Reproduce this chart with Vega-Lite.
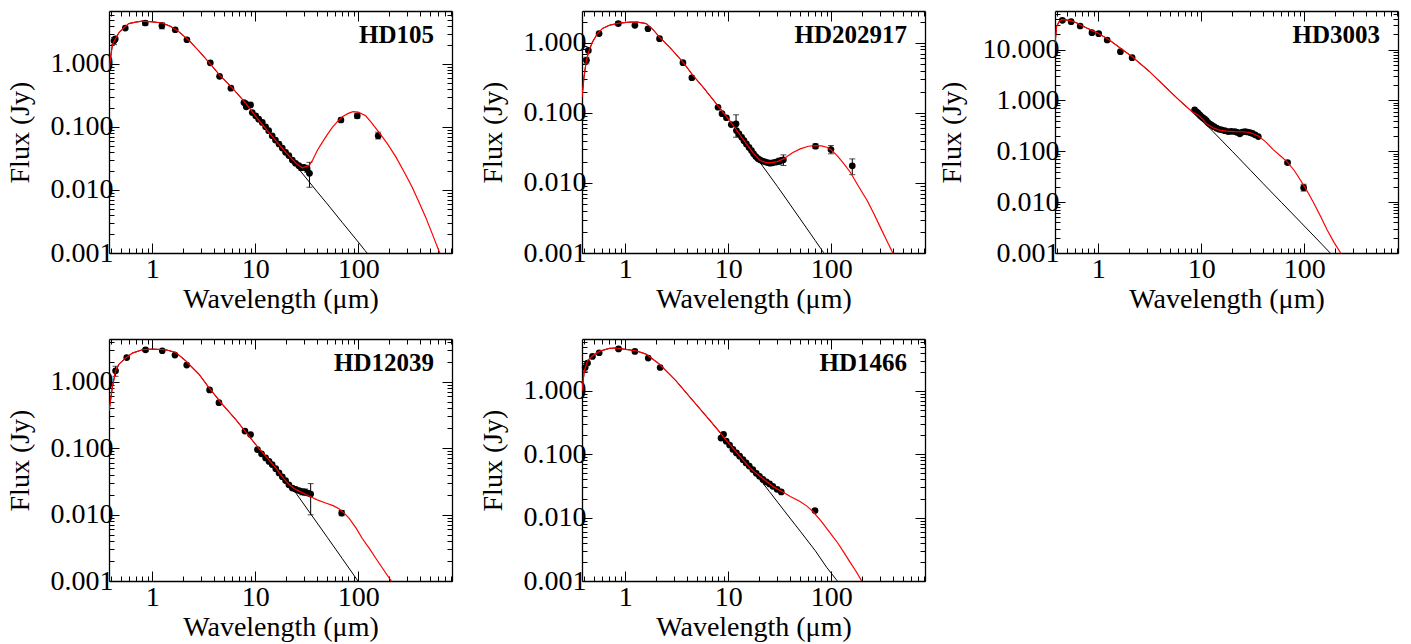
{
"$schema": "https://vega.github.io/schema/vega-lite/v6.json",
"padding": {"left": 6, "top": 10, "right": 5, "bottom": 5},
"background": "white",
"config": {
  "font": "Liberation Serif",
  "view": {"stroke": null},
  "axis": {"domainColor": "black", "domainWidth": 1.3, "tickColor": "black", "tickWidth": 1, "labelColor": "black", "titleColor": "black", "labelFont": "Liberation Serif", "titleFont": "Liberation Serif", "labelFontSize": 28, "titleFontSize": 28, "titleFontWeight": "normal", "grid": false, "labelOverlap": false, "labelFlush": false},
  "title": {"font": "Liberation Serif", "fontSize": 25, "fontWeight": "bold", "color": "black", "anchor": "end", "frame": "group", "orient": "top", "offset": -37, "dx": -18, "baseline": "alphabetic"}
},
"datasets": {"d": [
{"s":"HD105","k":"ph","w":0.38,"f":0.81},{"s":"HD105","k":"ph","w":0.40,"f":1.5},{"s":"HD105","k":"ph","w":0.41,"f":2.0},{"s":"HD105","k":"ph","w":0.44,"f":2.5},{"s":"HD105","k":"ph","w":0.475,"f":3.1},{"s":"HD105","k":"ph","w":0.53,"f":3.7},{"s":"HD105","k":"ph","w":0.59,"f":4.3},{"s":"HD105","k":"ph","w":0.69,"f":4.55},{"s":"HD105","k":"ph","w":0.8,"f":4.72},{"s":"HD105","k":"ph","w":1.0,"f":4.6},{"s":"HD105","k":"ph","w":1.25,"f":4.4},{"s":"HD105","k":"ph","w":1.5,"f":3.9},{"s":"HD105","k":"ph","w":1.81,"f":3.2},{"s":"HD105","k":"ph","w":2.27,"f":2.34},{"s":"HD105","k":"ph","w":2.84,"f":1.58},{"s":"HD105","k":"ph","w":3.55,"f":1.05},{"s":"HD105","k":"ph","w":4.43,"f":0.68},{"s":"HD105","k":"ph","w":6.0,"f":0.41},{"s":"HD105","k":"ph","w":8.07,"f":0.236},{"s":"HD105","k":"ph","w":10,"f":0.149},{"s":"HD105","k":"ph","w":13,"f":0.0885},{"s":"HD105","k":"ph","w":16,"f":0.0585},{"s":"HD105","k":"ph","w":20,"f":0.0375},{"s":"HD105","k":"ph","w":25,"f":0.024},{"s":"HD105","k":"ph","w":30,"f":0.0166},{"s":"HD105","k":"ph","w":40,"f":0.0093},{"s":"HD105","k":"ph","w":50,"f":0.006},{"s":"HD105","k":"ph","w":70,"f":0.00304},{"s":"HD105","k":"ph","w":100,"f":0.00149},{"s":"HD105","k":"ph","w":116,"f":0.0011},{"s":"HD105","k":"ph","w":130,"f":0.00088},
{"s":"HD105","k":"md","w":0.38,"f":0.81},{"s":"HD105","k":"md","w":0.40,"f":1.5},{"s":"HD105","k":"md","w":0.41,"f":2.0},{"s":"HD105","k":"md","w":0.44,"f":2.5},{"s":"HD105","k":"md","w":0.475,"f":3.1},{"s":"HD105","k":"md","w":0.53,"f":3.7},{"s":"HD105","k":"md","w":0.59,"f":4.3},{"s":"HD105","k":"md","w":0.69,"f":4.55},{"s":"HD105","k":"md","w":0.8,"f":4.72},{"s":"HD105","k":"md","w":1.0,"f":4.6},{"s":"HD105","k":"md","w":1.25,"f":4.4},{"s":"HD105","k":"md","w":1.5,"f":3.9},{"s":"HD105","k":"md","w":1.81,"f":3.2},{"s":"HD105","k":"md","w":2.27,"f":2.34},{"s":"HD105","k":"md","w":2.84,"f":1.58},{"s":"HD105","k":"md","w":3.55,"f":1.05},{"s":"HD105","k":"md","w":4.43,"f":0.68},{"s":"HD105","k":"md","w":6.0,"f":0.41},{"s":"HD105","k":"md","w":8.07,"f":0.236},{"s":"HD105","k":"md","w":10,"f":0.149},{"s":"HD105","k":"md","w":13,"f":0.0885},{"s":"HD105","k":"md","w":16,"f":0.0585},{"s":"HD105","k":"md","w":20,"f":0.0385},{"s":"HD105","k":"md","w":25,"f":0.0262},{"s":"HD105","k":"md","w":28.6,"f":0.0223},{"s":"HD105","k":"md","w":33.2,"f":0.0242},{"s":"HD105","k":"md","w":35.8,"f":0.029},{"s":"HD105","k":"md","w":40,"f":0.042},{"s":"HD105","k":"md","w":44.7,"f":0.0565},{"s":"HD105","k":"md","w":50,"f":0.075},{"s":"HD105","k":"md","w":56,"f":0.0975},{"s":"HD105","k":"md","w":63,"f":0.122},{"s":"HD105","k":"md","w":70,"f":0.144},{"s":"HD105","k":"md","w":80,"f":0.163},{"s":"HD105","k":"md","w":89,"f":0.173},{"s":"HD105","k":"md","w":100,"f":0.17},{"s":"HD105","k":"md","w":118,"f":0.149},{"s":"HD105","k":"md","w":135,"f":0.115},{"s":"HD105","k":"md","w":159,"f":0.0813},{"s":"HD105","k":"md","w":190,"f":0.055},{"s":"HD105","k":"md","w":231,"f":0.0336},{"s":"HD105","k":"md","w":280,"f":0.019},{"s":"HD105","k":"md","w":334,"f":0.011},{"s":"HD105","k":"md","w":390,"f":0.0063},{"s":"HD105","k":"md","w":451,"f":0.0037},{"s":"HD105","k":"md","w":530,"f":0.0019},{"s":"HD105","k":"md","w":621,"f":0.00098},{"s":"HD105","k":"md","w":680,"f":0.0007},
{"s":"HD105","k":"ob","w":0.425,"f":2.3,"lo":2.0,"hi":2.6},{"s":"HD105","k":"ob","w":0.437,"f":2.46},{"s":"HD105","k":"ob","w":0.547,"f":3.66},{"s":"HD105","k":"ob","w":0.855,"f":4.4,"lo":4.05,"hi":4.75},{"s":"HD105","k":"ob","w":1.24,"f":3.98,"lo":3.55,"hi":4.45},{"s":"HD105","k":"ob","w":1.67,"f":3.44},{"s":"HD105","k":"ob","w":2.17,"f":2.39},{"s":"HD105","k":"ob","w":3.66,"f":1.03},{"s":"HD105","k":"ob","w":4.5,"f":0.63},{"s":"HD105","k":"ob","w":5.8,"f":0.408},{"s":"HD105","k":"ob","w":7.76,"f":0.242},{"s":"HD105","k":"ob","w":8.07,"f":0.233},{"s":"HD105","k":"ob","w":8.17,"f":0.207},{"s":"HD105","k":"ob","w":9.0,"f":0.222},{"s":"HD105","k":"ob","w":9.35,"f":0.168},{"s":"HD105","k":"ob","w":10.1,"f":0.149},{"s":"HD105","k":"ob","w":10.8,"f":0.132},{"s":"HD105","k":"ob","w":11.7,"f":0.117},{"s":"HD105","k":"ob","w":12.6,"f":0.1},{"s":"HD105","k":"ob","w":13.5,"f":0.0867},{"s":"HD105","k":"ob","w":14.6,"f":0.072},{"s":"HD105","k":"ob","w":15.7,"f":0.0616},{"s":"HD105","k":"ob","w":17,"f":0.0533},{"s":"HD105","k":"ob","w":18.3,"f":0.046},{"s":"HD105","k":"ob","w":19.7,"f":0.0394},{"s":"HD105","k":"ob","w":21.2,"f":0.035},{"s":"HD105","k":"ob","w":22.9,"f":0.0297},{"s":"HD105","k":"ob","w":24.6,"f":0.0264},{"s":"HD105","k":"ob","w":26.5,"f":0.0242},{"s":"HD105","k":"ob","w":28,"f":0.0225,"lo":0.0205,"hi":0.0247},{"s":"HD105","k":"ob","w":29.7,"f":0.0228},{"s":"HD105","k":"ob","w":31.9,"f":0.0215,"lo":0.019,"hi":0.0245},{"s":"HD105","k":"ob","w":33.6,"f":0.0183,"lo":0.011,"hi":0.0273},{"s":"HD105","k":"ob","w":67.9,"f":0.128,"lo":0.119,"hi":0.137},{"s":"HD105","k":"ob","w":97.8,"f":0.149,"lo":0.136,"hi":0.163},{"s":"HD105","k":"ob","w":156,"f":0.072,"lo":0.064,"hi":0.082},

{"s":"HD202917","k":"ph","w":0.38,"f":0.167},{"s":"HD202917","k":"ph","w":0.397,"f":0.32},{"s":"HD202917","k":"ph","w":0.419,"f":0.56},{"s":"HD202917","k":"ph","w":0.446,"f":0.78},{"s":"HD202917","k":"ph","w":0.48,"f":1.02},{"s":"HD202917","k":"ph","w":0.537,"f":1.35},{"s":"HD202917","k":"ph","w":0.6,"f":1.59},{"s":"HD202917","k":"ph","w":0.7,"f":1.77},{"s":"HD202917","k":"ph","w":0.87,"f":1.9},{"s":"HD202917","k":"ph","w":1.1,"f":1.96},{"s":"HD202917","k":"ph","w":1.3,"f":1.97},{"s":"HD202917","k":"ph","w":1.6,"f":1.87},{"s":"HD202917","k":"ph","w":1.85,"f":1.55},{"s":"HD202917","k":"ph","w":2.15,"f":1.2},{"s":"HD202917","k":"ph","w":2.69,"f":0.865},{"s":"HD202917","k":"ph","w":3.63,"f":0.528},{"s":"HD202917","k":"ph","w":4.54,"f":0.341},{"s":"HD202917","k":"ph","w":5.69,"f":0.232},{"s":"HD202917","k":"ph","w":7.67,"f":0.134},{"s":"HD202917","k":"ph","w":10.3,"f":0.0776},{"s":"HD202917","k":"ph","w":15,"f":0.036},{"s":"HD202917","k":"ph","w":20.3,"f":0.0196},{"s":"HD202917","k":"ph","w":30,"f":0.0089},{"s":"HD202917","k":"ph","w":50,"f":0.00305},{"s":"HD202917","k":"ph","w":70,"f":0.0015},{"s":"HD202917","k":"ph","w":84,"f":0.00102},{"s":"HD202917","k":"ph","w":95,"f":0.0008},
{"s":"HD202917","k":"md","w":0.38,"f":0.167},{"s":"HD202917","k":"md","w":0.397,"f":0.32},{"s":"HD202917","k":"md","w":0.419,"f":0.56},{"s":"HD202917","k":"md","w":0.446,"f":0.78},{"s":"HD202917","k":"md","w":0.48,"f":1.02},{"s":"HD202917","k":"md","w":0.537,"f":1.35},{"s":"HD202917","k":"md","w":0.6,"f":1.59},{"s":"HD202917","k":"md","w":0.7,"f":1.77},{"s":"HD202917","k":"md","w":0.87,"f":1.9},{"s":"HD202917","k":"md","w":1.1,"f":1.96},{"s":"HD202917","k":"md","w":1.3,"f":1.97},{"s":"HD202917","k":"md","w":1.6,"f":1.87},{"s":"HD202917","k":"md","w":1.85,"f":1.55},{"s":"HD202917","k":"md","w":2.15,"f":1.2},{"s":"HD202917","k":"md","w":2.69,"f":0.865},{"s":"HD202917","k":"md","w":3.63,"f":0.528},{"s":"HD202917","k":"md","w":4.54,"f":0.341},{"s":"HD202917","k":"md","w":5.69,"f":0.232},{"s":"HD202917","k":"md","w":7.67,"f":0.134},{"s":"HD202917","k":"md","w":10.3,"f":0.0776},{"s":"HD202917","k":"md","w":15,"f":0.036},{"s":"HD202917","k":"md","w":17.5,"f":0.0265},{"s":"HD202917","k":"md","w":20.3,"f":0.0208},{"s":"HD202917","k":"md","w":23,"f":0.0196},{"s":"HD202917","k":"md","w":25.4,"f":0.0193},{"s":"HD202917","k":"md","w":30,"f":0.0201},{"s":"HD202917","k":"md","w":34.3,"f":0.022},{"s":"HD202917","k":"md","w":42,"f":0.027},{"s":"HD202917","k":"md","w":49.9,"f":0.0306},{"s":"HD202917","k":"md","w":60,"f":0.0333},{"s":"HD202917","k":"md","w":69.8,"f":0.0341},{"s":"HD202917","k":"md","w":80,"f":0.0337},{"s":"HD202917","k":"md","w":90.8,"f":0.0323},{"s":"HD202917","k":"md","w":100,"f":0.0295},{"s":"HD202917","k":"md","w":114,"f":0.0245},{"s":"HD202917","k":"md","w":130,"f":0.0195},{"s":"HD202917","k":"md","w":153,"f":0.0142},{"s":"HD202917","k":"md","w":185,"f":0.0088},{"s":"HD202917","k":"md","w":223,"f":0.0056},{"s":"HD202917","k":"md","w":260,"f":0.0036},{"s":"HD202917","k":"md","w":300,"f":0.00232},{"s":"HD202917","k":"md","w":350,"f":0.00145},{"s":"HD202917","k":"md","w":400,"f":0.00097},{"s":"HD202917","k":"md","w":440,"f":0.00075},
{"s":"HD202917","k":"ob","w":0.42,"f":0.56,"lo":0.5,"hi":0.62},{"s":"HD202917","k":"ob","w":0.438,"f":0.776},{"s":"HD202917","k":"ob","w":0.557,"f":1.35},{"s":"HD202917","k":"ob","w":0.855,"f":1.87,"lo":1.75,"hi":2.0},{"s":"HD202917","k":"ob","w":1.24,"f":1.77},{"s":"HD202917","k":"ob","w":1.66,"f":1.58},{"s":"HD202917","k":"ob","w":2.15,"f":1.14},{"s":"HD202917","k":"ob","w":3.63,"f":0.518},{"s":"HD202917","k":"ob","w":4.43,"f":0.316},{"s":"HD202917","k":"ob","w":7.95,"f":0.12},{"s":"HD202917","k":"ob","w":8.7,"f":0.097},{"s":"HD202917","k":"ob","w":9.6,"f":0.0849},{"s":"HD202917","k":"ob","w":10.7,"f":0.068},{"s":"HD202917","k":"ob","w":11.9,"f":0.0696,"lo":0.0448,"hi":0.0936},{"s":"HD202917","k":"ob","w":12.0,"f":0.0558},{"s":"HD202917","k":"ob","w":12.7,"f":0.05},{"s":"HD202917","k":"ob","w":13.5,"f":0.0448},{"s":"HD202917","k":"ob","w":14.2,"f":0.04},{"s":"HD202917","k":"ob","w":15,"f":0.036},{"s":"HD202917","k":"ob","w":15.9,"f":0.032},{"s":"HD202917","k":"ob","w":16.8,"f":0.0289},{"s":"HD202917","k":"ob","w":17.6,"f":0.026},{"s":"HD202917","k":"ob","w":18.5,"f":0.0238},{"s":"HD202917","k":"ob","w":19.4,"f":0.0222},{"s":"HD202917","k":"ob","w":20.3,"f":0.0213},{"s":"HD202917","k":"ob","w":21.5,"f":0.0205},{"s":"HD202917","k":"ob","w":22.7,"f":0.02},{"s":"HD202917","k":"ob","w":24,"f":0.0195},{"s":"HD202917","k":"ob","w":25.4,"f":0.0191},{"s":"HD202917","k":"ob","w":26.9,"f":0.0193},{"s":"HD202917","k":"ob","w":28.4,"f":0.0197},{"s":"HD202917","k":"ob","w":29.8,"f":0.02},{"s":"HD202917","k":"ob","w":31.3,"f":0.0204,"lo":0.0185,"hi":0.0225},{"s":"HD202917","k":"ob","w":32.8,"f":0.021},{"s":"HD202917","k":"ob","w":34.3,"f":0.0213,"lo":0.0177,"hi":0.0251},{"s":"HD202917","k":"ob","w":70.3,"f":0.0333,"lo":0.031,"hi":0.036},{"s":"HD202917","k":"ob","w":99.3,"f":0.0299,"lo":0.026,"hi":0.0341},{"s":"HD202917","k":"ob","w":160,"f":0.0175,"lo":0.0131,"hi":0.022},

{"s":"HD3003","k":"ph","w":0.38,"f":13.5},{"s":"HD3003","k":"ph","w":0.394,"f":28.7},{"s":"HD3003","k":"ph","w":0.418,"f":36},{"s":"HD3003","k":"ph","w":0.442,"f":38.9},{"s":"HD3003","k":"ph","w":0.48,"f":38.5},{"s":"HD3003","k":"ph","w":0.532,"f":37.7},{"s":"HD3003","k":"ph","w":0.62,"f":33.5},{"s":"HD3003","k":"ph","w":0.77,"f":26.7},{"s":"HD3003","k":"ph","w":0.96,"f":21.9},{"s":"HD3003","k":"ph","w":1.27,"f":15.7},{"s":"HD3003","k":"ph","w":1.72,"f":9.97},{"s":"HD3003","k":"ph","w":2.15,"f":7.16},{"s":"HD3003","k":"ph","w":3.13,"f":3.73},{"s":"HD3003","k":"ph","w":4.91,"f":1.55},{"s":"HD3003","k":"ph","w":6.15,"f":1.0},{"s":"HD3003","k":"ph","w":8.3,"f":0.58},{"s":"HD3003","k":"ph","w":10.4,"f":0.39},{"s":"HD3003","k":"ph","w":13,"f":0.245},{"s":"HD3003","k":"ph","w":16.3,"f":0.153},{"s":"HD3003","k":"ph","w":20,"f":0.1},{"s":"HD3003","k":"ph","w":30,"f":0.0425},{"s":"HD3003","k":"ph","w":40.1,"f":0.023},{"s":"HD3003","k":"ph","w":60,"f":0.0099},{"s":"HD3003","k":"ph","w":100,"f":0.0034},{"s":"HD3003","k":"ph","w":150,"f":0.00145},{"s":"HD3003","k":"ph","w":182,"f":0.00096},{"s":"HD3003","k":"ph","w":200,"f":0.00079},
{"s":"HD3003","k":"md","w":0.38,"f":13.5},{"s":"HD3003","k":"md","w":0.394,"f":28.7},{"s":"HD3003","k":"md","w":0.418,"f":36},{"s":"HD3003","k":"md","w":0.442,"f":38.9},{"s":"HD3003","k":"md","w":0.48,"f":38.5},{"s":"HD3003","k":"md","w":0.532,"f":37.7},{"s":"HD3003","k":"md","w":0.62,"f":33.5},{"s":"HD3003","k":"md","w":0.77,"f":26.7},{"s":"HD3003","k":"md","w":0.96,"f":21.9},{"s":"HD3003","k":"md","w":1.27,"f":15.7},{"s":"HD3003","k":"md","w":1.72,"f":9.97},{"s":"HD3003","k":"md","w":2.15,"f":7.16},{"s":"HD3003","k":"md","w":3.13,"f":3.73},{"s":"HD3003","k":"md","w":4.91,"f":1.55},{"s":"HD3003","k":"md","w":6.15,"f":1.0},{"s":"HD3003","k":"md","w":8.3,"f":0.58},{"s":"HD3003","k":"md","w":9.3,"f":0.52},{"s":"HD3003","k":"md","w":10.4,"f":0.42},{"s":"HD3003","k":"md","w":11.2,"f":0.35},{"s":"HD3003","k":"md","w":13,"f":0.29},{"s":"HD3003","k":"md","w":15,"f":0.262},{"s":"HD3003","k":"md","w":17.6,"f":0.25},{"s":"HD3003","k":"md","w":21,"f":0.245},{"s":"HD3003","k":"md","w":25.6,"f":0.243},{"s":"HD3003","k":"md","w":30,"f":0.232},{"s":"HD3003","k":"md","w":35.8,"f":0.2},{"s":"HD3003","k":"md","w":42,"f":0.155},{"s":"HD3003","k":"md","w":50.2,"f":0.107},{"s":"HD3003","k":"md","w":60,"f":0.078},{"s":"HD3003","k":"md","w":67.9,"f":0.0628},{"s":"HD3003","k":"md","w":80,"f":0.042},{"s":"HD3003","k":"md","w":91.7,"f":0.0273},{"s":"HD3003","k":"md","w":105,"f":0.0175},{"s":"HD3003","k":"md","w":124,"f":0.0095},{"s":"HD3003","k":"md","w":145,"f":0.0051},{"s":"HD3003","k":"md","w":167,"f":0.00283},{"s":"HD3003","k":"md","w":195,"f":0.0016},{"s":"HD3003","k":"md","w":225,"f":0.00101},{"s":"HD3003","k":"md","w":245,"f":0.00078},
{"s":"HD3003","k":"ob","w":0.448,"f":37.7,"lo":35,"hi":40.5},{"s":"HD3003","k":"ob","w":0.545,"f":35.5},{"s":"HD3003","k":"ob","w":0.667,"f":29.2},{"s":"HD3003","k":"ob","w":0.868,"f":21.6},{"s":"HD3003","k":"ob","w":1.01,"f":20.6},{"s":"HD3003","k":"ob","w":1.22,"f":15.5},{"s":"HD3003","k":"ob","w":1.64,"f":9.12},{"s":"HD3003","k":"ob","w":2.13,"f":6.94},{"s":"HD3003","k":"ob","w":8.62,"f":0.656},{"s":"HD3003","k":"ob","w":9.0,"f":0.6},{"s":"HD3003","k":"ob","w":9.29,"f":0.564},{"s":"HD3003","k":"ob","w":9.65,"f":0.52},{"s":"HD3003","k":"ob","w":10.0,"f":0.484},{"s":"HD3003","k":"ob","w":10.4,"f":0.455},{"s":"HD3003","k":"ob","w":10.8,"f":0.43},{"s":"HD3003","k":"ob","w":11.2,"f":0.4},{"s":"HD3003","k":"ob","w":11.6,"f":0.369},{"s":"HD3003","k":"ob","w":12.1,"f":0.345},{"s":"HD3003","k":"ob","w":12.6,"f":0.327},{"s":"HD3003","k":"ob","w":13.3,"f":0.305},{"s":"HD3003","k":"ob","w":14.1,"f":0.285},{"s":"HD3003","k":"ob","w":14.9,"f":0.272},{"s":"HD3003","k":"ob","w":15.7,"f":0.265},{"s":"HD3003","k":"ob","w":16.9,"f":0.255},{"s":"HD3003","k":"ob","w":18.2,"f":0.245},{"s":"HD3003","k":"ob","w":19.6,"f":0.246},{"s":"HD3003","k":"ob","w":21.2,"f":0.245},{"s":"HD3003","k":"ob","w":22.4,"f":0.235},{"s":"HD3003","k":"ob","w":23.7,"f":0.221},{"s":"HD3003","k":"ob","w":25.1,"f":0.24},{"s":"HD3003","k":"ob","w":26.6,"f":0.245},{"s":"HD3003","k":"ob","w":28.1,"f":0.24},{"s":"HD3003","k":"ob","w":29.7,"f":0.234},{"s":"HD3003","k":"ob","w":31.4,"f":0.225},{"s":"HD3003","k":"ob","w":33.3,"f":0.211},{"s":"HD3003","k":"ob","w":35.8,"f":0.195},{"s":"HD3003","k":"ob","w":68.8,"f":0.06,"lo":0.056,"hi":0.064},{"s":"HD3003","k":"ob","w":98.6,"f":0.0193,"lo":0.0165,"hi":0.0225},

{"s":"HD12039","k":"ph","w":0.38,"f":0.36},{"s":"HD12039","k":"ph","w":0.409,"f":0.81},{"s":"HD12039","k":"ph","w":0.44,"f":1.45},{"s":"HD12039","k":"ph","w":0.475,"f":1.83},{"s":"HD12039","k":"ph","w":0.55,"f":2.25},{"s":"HD12039","k":"ph","w":0.64,"f":2.68},{"s":"HD12039","k":"ph","w":0.8,"f":3.01},{"s":"HD12039","k":"ph","w":1.0,"f":3.08},{"s":"HD12039","k":"ph","w":1.35,"f":3.01},{"s":"HD12039","k":"ph","w":1.69,"f":2.74},{"s":"HD12039","k":"ph","w":2.11,"f":2.06},{"s":"HD12039","k":"ph","w":2.84,"f":1.29},{"s":"HD12039","k":"ph","w":3.55,"f":0.81},{"s":"HD12039","k":"ph","w":4.78,"f":0.456},{"s":"HD12039","k":"ph","w":6.45,"f":0.27},{"s":"HD12039","k":"ph","w":10.1,"f":0.113},{"s":"HD12039","k":"ph","w":15.8,"f":0.0502},{"s":"HD12039","k":"ph","w":22.9,"f":0.0251},{"s":"HD12039","k":"ph","w":30,"f":0.0139},{"s":"HD12039","k":"ph","w":50,"f":0.00455},{"s":"HD12039","k":"ph","w":70,"f":0.00217},{"s":"HD12039","k":"ph","w":99.3,"f":0.001},{"s":"HD12039","k":"ph","w":110,"f":0.0008},
{"s":"HD12039","k":"md","w":0.38,"f":0.36},{"s":"HD12039","k":"md","w":0.409,"f":0.81},{"s":"HD12039","k":"md","w":0.44,"f":1.45},{"s":"HD12039","k":"md","w":0.475,"f":1.83},{"s":"HD12039","k":"md","w":0.55,"f":2.25},{"s":"HD12039","k":"md","w":0.64,"f":2.68},{"s":"HD12039","k":"md","w":0.8,"f":3.01},{"s":"HD12039","k":"md","w":1.0,"f":3.08},{"s":"HD12039","k":"md","w":1.35,"f":3.01},{"s":"HD12039","k":"md","w":1.69,"f":2.74},{"s":"HD12039","k":"md","w":2.11,"f":2.06},{"s":"HD12039","k":"md","w":2.84,"f":1.29},{"s":"HD12039","k":"md","w":3.55,"f":0.81},{"s":"HD12039","k":"md","w":4.78,"f":0.456},{"s":"HD12039","k":"md","w":6.45,"f":0.27},{"s":"HD12039","k":"md","w":10.1,"f":0.113},{"s":"HD12039","k":"md","w":15.8,"f":0.0502},{"s":"HD12039","k":"md","w":17,"f":0.043},{"s":"HD12039","k":"md","w":19,"f":0.0345},{"s":"HD12039","k":"md","w":21.2,"f":0.0285},{"s":"HD12039","k":"md","w":24,"f":0.0245},{"s":"HD12039","k":"md","w":26.6,"f":0.0225},{"s":"HD12039","k":"md","w":30,"f":0.0205},{"s":"HD12039","k":"md","w":34.5,"f":0.0185},{"s":"HD12039","k":"md","w":40,"f":0.0166},{"s":"HD12039","k":"md","w":48.2,"f":0.0149},{"s":"HD12039","k":"md","w":57,"f":0.0136},{"s":"HD12039","k":"md","w":65,"f":0.0122},{"s":"HD12039","k":"md","w":73,"f":0.0105},{"s":"HD12039","k":"md","w":81.3,"f":0.00883},{"s":"HD12039","k":"md","w":95,"f":0.0063},{"s":"HD12039","k":"md","w":109,"f":0.0044},{"s":"HD12039","k":"md","w":128,"f":0.0031},{"s":"HD12039","k":"md","w":148,"f":0.0022},{"s":"HD12039","k":"md","w":180,"f":0.0014},{"s":"HD12039","k":"md","w":211,"f":0.00098},{"s":"HD12039","k":"md","w":230,"f":0.0008},
{"s":"HD12039","k":"ob","w":0.44,"f":1.45,"lo":1.2,"hi":1.7},{"s":"HD12039","k":"ob","w":0.565,"f":2.3},{"s":"HD12039","k":"ob","w":0.86,"f":3.0,"lo":2.85,"hi":3.15},{"s":"HD12039","k":"ob","w":1.25,"f":2.91},{"s":"HD12039","k":"ob","w":1.66,"f":2.5},{"s":"HD12039","k":"ob","w":2.16,"f":1.77},{"s":"HD12039","k":"ob","w":3.6,"f":0.75},{"s":"HD12039","k":"ob","w":4.44,"f":0.482},{"s":"HD12039","k":"ob","w":7.94,"f":0.18},{"s":"HD12039","k":"ob","w":9.0,"f":0.16},{"s":"HD12039","k":"ob","w":10.5,"f":0.095},{"s":"HD12039","k":"ob","w":11.5,"f":0.082},{"s":"HD12039","k":"ob","w":12.6,"f":0.071},{"s":"HD12039","k":"ob","w":13.6,"f":0.063},{"s":"HD12039","k":"ob","w":14.6,"f":0.0565},{"s":"HD12039","k":"ob","w":15.8,"f":0.049},{"s":"HD12039","k":"ob","w":17,"f":0.0422},{"s":"HD12039","k":"ob","w":18.3,"f":0.037},{"s":"HD12039","k":"ob","w":19.7,"f":0.0324},{"s":"HD12039","k":"ob","w":21.2,"f":0.028},{"s":"HD12039","k":"ob","w":22.9,"f":0.025},{"s":"HD12039","k":"ob","w":24.7,"f":0.024},{"s":"HD12039","k":"ob","w":26.6,"f":0.0229},{"s":"HD12039","k":"ob","w":28.5,"f":0.022,"lo":0.0198,"hi":0.0243},{"s":"HD12039","k":"ob","w":30.4,"f":0.0218,"lo":0.0195,"hi":0.0242},{"s":"HD12039","k":"ob","w":32.5,"f":0.021},{"s":"HD12039","k":"ob","w":34.5,"f":0.0203,"lo":0.0099,"hi":0.0292},{"s":"HD12039","k":"ob","w":69,"f":0.0105,"lo":0.0096,"hi":0.0115},

{"s":"HD1466","k":"ph","w":0.38,"f":1.0},{"s":"HD1466","k":"ph","w":0.4,"f":2.07},{"s":"HD1466","k":"ph","w":0.43,"f":2.99},{"s":"HD1466","k":"ph","w":0.48,"f":3.59},{"s":"HD1466","k":"ph","w":0.558,"f":4.2},{"s":"HD1466","k":"ph","w":0.698,"f":4.69},{"s":"HD1466","k":"ph","w":0.81,"f":4.75},{"s":"HD1466","k":"ph","w":1.01,"f":4.52},{"s":"HD1466","k":"ph","w":1.27,"f":4.3},{"s":"HD1466","k":"ph","w":1.59,"f":3.81},{"s":"HD1466","k":"ph","w":2.14,"f":2.65},{"s":"HD1466","k":"ph","w":3.11,"f":1.44},{"s":"HD1466","k":"ph","w":4.87,"f":0.615},{"s":"HD1466","k":"ph","w":7.62,"f":0.262},{"s":"HD1466","k":"ph","w":10.3,"f":0.143},{"s":"HD1466","k":"ph","w":13.8,"f":0.0826},{"s":"HD1466","k":"ph","w":18.7,"f":0.0475},{"s":"HD1466","k":"ph","w":25,"f":0.026},{"s":"HD1466","k":"ph","w":35,"f":0.0128},{"s":"HD1466","k":"ph","w":50,"f":0.0061},{"s":"HD1466","k":"ph","w":70,"f":0.003},{"s":"HD1466","k":"ph","w":90,"f":0.00165},{"s":"HD1466","k":"ph","w":112,"f":0.00105},{"s":"HD1466","k":"ph","w":125,"f":0.00085},
{"s":"HD1466","k":"md","w":0.38,"f":1.0},{"s":"HD1466","k":"md","w":0.4,"f":2.07},{"s":"HD1466","k":"md","w":0.43,"f":2.99},{"s":"HD1466","k":"md","w":0.48,"f":3.59},{"s":"HD1466","k":"md","w":0.558,"f":4.2},{"s":"HD1466","k":"md","w":0.698,"f":4.69},{"s":"HD1466","k":"md","w":0.81,"f":4.75},{"s":"HD1466","k":"md","w":1.01,"f":4.52},{"s":"HD1466","k":"md","w":1.27,"f":4.3},{"s":"HD1466","k":"md","w":1.59,"f":3.81},{"s":"HD1466","k":"md","w":2.14,"f":2.65},{"s":"HD1466","k":"md","w":3.11,"f":1.44},{"s":"HD1466","k":"md","w":4.87,"f":0.615},{"s":"HD1466","k":"md","w":7.62,"f":0.262},{"s":"HD1466","k":"md","w":10.3,"f":0.143},{"s":"HD1466","k":"md","w":13.8,"f":0.0826},{"s":"HD1466","k":"md","w":16.1,"f":0.062},{"s":"HD1466","k":"md","w":18.7,"f":0.05},{"s":"HD1466","k":"md","w":23.4,"f":0.0375},{"s":"HD1466","k":"md","w":28,"f":0.03},{"s":"HD1466","k":"md","w":33.9,"f":0.0254},{"s":"HD1466","k":"md","w":40,"f":0.0215},{"s":"HD1466","k":"md","w":49.3,"f":0.0181},{"s":"HD1466","k":"md","w":58,"f":0.0152},{"s":"HD1466","k":"md","w":66.4,"f":0.0125},{"s":"HD1466","k":"md","w":80.1,"f":0.0087},{"s":"HD1466","k":"md","w":97,"f":0.0058},{"s":"HD1466","k":"md","w":116,"f":0.00394},{"s":"HD1466","k":"md","w":133,"f":0.0028},{"s":"HD1466","k":"md","w":151,"f":0.00202},{"s":"HD1466","k":"md","w":175,"f":0.0014},{"s":"HD1466","k":"md","w":199,"f":0.00098},{"s":"HD1466","k":"md","w":215,"f":0.0008},
{"s":"HD1466","k":"ob","w":0.408,"f":2.34,"lo":2.0,"hi":2.7},{"s":"HD1466","k":"ob","w":0.43,"f":2.75},{"s":"HD1466","k":"ob","w":0.48,"f":3.5},{"s":"HD1466","k":"ob","w":0.558,"f":4.0},{"s":"HD1466","k":"ob","w":0.86,"f":4.6,"lo":4.45,"hi":4.75},{"s":"HD1466","k":"ob","w":1.24,"f":4.2},{"s":"HD1466","k":"ob","w":1.67,"f":3.3},{"s":"HD1466","k":"ob","w":2.18,"f":2.34},{"s":"HD1466","k":"ob","w":8.5,"f":0.18},{"s":"HD1466","k":"ob","w":9.0,"f":0.206},{"s":"HD1466","k":"ob","w":9.55,"f":0.161},{"s":"HD1466","k":"ob","w":10.3,"f":0.14},{"s":"HD1466","k":"ob","w":11.1,"f":0.119},{"s":"HD1466","k":"ob","w":12.0,"f":0.105},{"s":"HD1466","k":"ob","w":12.9,"f":0.0933},{"s":"HD1466","k":"ob","w":13.9,"f":0.082},{"s":"HD1466","k":"ob","w":14.9,"f":0.073},{"s":"HD1466","k":"ob","w":16,"f":0.065},{"s":"HD1466","k":"ob","w":17.3,"f":0.0574},{"s":"HD1466","k":"ob","w":18.7,"f":0.05},{"s":"HD1466","k":"ob","w":20.1,"f":0.045},{"s":"HD1466","k":"ob","w":21.7,"f":0.04},{"s":"HD1466","k":"ob","w":23.4,"f":0.0366},{"s":"HD1466","k":"ob","w":25.2,"f":0.034},{"s":"HD1466","k":"ob","w":27.1,"f":0.0312},{"s":"HD1466","k":"ob","w":29.8,"f":0.028},{"s":"HD1466","k":"ob","w":32.7,"f":0.0254},{"s":"HD1466","k":"ob","w":69.5,"f":0.0129,"lo":0.0122,"hi":0.0136}
]},
"data": {"name": "d"},
"columns": 3,
"spacing": {"row": 86, "column": 130},
"bounds": "flush",
"concat": [
{"width": 343, "height": 242, "title": {"text": "HD105"}, "transform": [{"filter": "datum.s == 'HD105'"}],
 "resolve": {"axis": {"x": "independent", "y": "independent"}},
 "layer": [
  {"transform": [{"filter": "datum.k == 'ob'"}], "mark": {"type": "circle", "color": "black", "size": 45, "opacity": 1},
   "encoding": {"x": {"field": "w", "type": "quantitative", "scale": {"type": "log", "domain": [0.38, 813], "nice": false}, "axis": {"orient": "bottom", "values": [1, 10, 100], "format": "d", "tickSize": -10, "labelPadding": 12, "labelFont": "Liberation Serif", "labelFontSize": 28, "title": "Wavelength (μm)", "titleFont": "Liberation Serif", "titleFontSize": 28, "titleFontWeight": "normal", "titlePadding": 2}},
    "y": {"field": "f", "type": "quantitative", "scale": {"type": "log", "domain": [0.001, 6.82], "nice": false}, "axis": {"orient": "left", "values": [0.001, 0.01, 0.1, 1], "format": ".3f", "tickSize": -10, "labelPadding": 6, "labelFont": "Liberation Serif", "labelFontSize": 28, "title": "Flux (Jy)", "titleFont": "Liberation Serif", "titleFontSize": 28, "titleFontWeight": "normal", "titlePadding": 16}}}},
  {"transform": [{"filter": "datum.k == 'ob' && isValid(datum.lo)"}], "mark": {"type": "rule", "color": "black", "strokeWidth": 1},
   "encoding": {"x": {"field": "w", "type": "quantitative", "scale": {"type": "log", "domain": [0.38, 813], "nice": false}, "axis": {"orient": "top", "values": [1, 10, 100], "labels": false, "tickSize": -10, "title": null}},
    "y": {"field": "lo", "type": "quantitative", "scale": {"type": "log", "domain": [0.001, 6.82], "nice": false}, "axis": {"orient": "right", "values": [0.001, 0.01, 0.1, 1], "labels": false, "tickSize": -10, "title": null}}, "y2": {"field": "hi"}}},
  {"transform": [{"filter": "datum.k == 'ob' && isValid(datum.lo)"}, {"fold": ["lo", "hi"], "as": ["e", "v"]}], "mark": {"type": "tick", "orient": "horizontal", "color": "black", "size": 6, "thickness": 1},
   "encoding": {"x": {"field": "w", "type": "quantitative", "scale": {"type": "log", "domain": [0.38, 813], "nice": false}, "axis": null},
    "y": {"field": "v", "type": "quantitative", "scale": {"type": "log", "domain": [0.001, 6.82], "nice": false}, "axis": null}}},
  {"transform": [{"filter": "datum.k == 'ph'"}], "mark": {"type": "line", "color": "black", "strokeWidth": 1, "clip": true},
   "encoding": {"x": {"field": "w", "type": "quantitative", "scale": {"type": "log", "domain": [0.38, 813], "nice": false}, "axis": {"orient": "bottom", "values": [0.4, 0.5, 0.6, 0.7, 0.8, 0.9, 2, 3, 4, 5, 6, 7, 8, 9, 20, 30, 40, 50, 60, 70, 80, 90, 200, 300, 400, 500, 600, 700, 800], "labels": false, "domain": false, "tickSize": -5, "title": null}},
    "y": {"field": "f", "type": "quantitative", "scale": {"type": "log", "domain": [0.001, 6.82], "nice": false}, "axis": {"orient": "left", "values": [0.002, 0.003, 0.004, 0.005, 0.006, 0.007, 0.008, 0.009, 0.02, 0.03, 0.04, 0.05, 0.06, 0.07, 0.08, 0.09, 0.2, 0.3, 0.4, 0.5, 0.6, 0.7, 0.8, 0.9, 2, 3, 4, 5, 6], "labels": false, "domain": false, "tickSize": -5, "title": null}}}},
  {"transform": [{"filter": "datum.k == 'md'"}], "mark": {"type": "line", "color": "#ff0000", "strokeWidth": 1.2, "clip": true},
   "encoding": {"x": {"field": "w", "type": "quantitative", "scale": {"type": "log", "domain": [0.38, 813], "nice": false}, "axis": {"orient": "top", "values": [0.4, 0.5, 0.6, 0.7, 0.8, 0.9, 2, 3, 4, 5, 6, 7, 8, 9, 20, 30, 40, 50, 60, 70, 80, 90, 200, 300, 400, 500, 600, 700, 800], "labels": false, "domain": false, "tickSize": -5, "title": null}},
    "y": {"field": "f", "type": "quantitative", "scale": {"type": "log", "domain": [0.001, 6.82], "nice": false}, "axis": {"orient": "right", "values": [0.002, 0.003, 0.004, 0.005, 0.006, 0.007, 0.008, 0.009, 0.02, 0.03, 0.04, 0.05, 0.06, 0.07, 0.08, 0.09, 0.2, 0.3, 0.4, 0.5, 0.6, 0.7, 0.8, 0.9, 2, 3, 4, 5, 6], "labels": false, "domain": false, "tickSize": -5, "title": null}}}}
 ]},
{"width": 343, "height": 242, "title": {"text": "HD202917"}, "transform": [{"filter": "datum.s == 'HD202917'"}],
 "resolve": {"axis": {"x": "independent", "y": "independent"}},
 "layer": [
  {"transform": [{"filter": "datum.k == 'ob'"}], "mark": {"type": "circle", "color": "black", "size": 45, "opacity": 1},
   "encoding": {"x": {"field": "w", "type": "quantitative", "scale": {"type": "log", "domain": [0.38, 813], "nice": false}, "axis": {"orient": "bottom", "values": [1, 10, 100], "format": "d", "tickSize": -10, "labelPadding": 12, "labelFont": "Liberation Serif", "labelFontSize": 28, "title": "Wavelength (μm)", "titleFont": "Liberation Serif", "titleFontSize": 28, "titleFontWeight": "normal", "titlePadding": 2}},
    "y": {"field": "f", "type": "quantitative", "scale": {"type": "log", "domain": [0.001, 2.83], "nice": false}, "axis": {"orient": "left", "values": [0.001, 0.01, 0.1, 1], "format": ".3f", "tickSize": -10, "labelPadding": 6, "labelFont": "Liberation Serif", "labelFontSize": 28, "title": "Flux (Jy)", "titleFont": "Liberation Serif", "titleFontSize": 28, "titleFontWeight": "normal", "titlePadding": 16}}}},
  {"transform": [{"filter": "datum.k == 'ob' && isValid(datum.lo)"}], "mark": {"type": "rule", "color": "black", "strokeWidth": 1},
   "encoding": {"x": {"field": "w", "type": "quantitative", "scale": {"type": "log", "domain": [0.38, 813], "nice": false}, "axis": {"orient": "top", "values": [1, 10, 100], "labels": false, "tickSize": -10, "title": null}},
    "y": {"field": "lo", "type": "quantitative", "scale": {"type": "log", "domain": [0.001, 2.83], "nice": false}, "axis": {"orient": "right", "values": [0.001, 0.01, 0.1, 1], "labels": false, "tickSize": -10, "title": null}}, "y2": {"field": "hi"}}},
  {"transform": [{"filter": "datum.k == 'ob' && isValid(datum.lo)"}, {"fold": ["lo", "hi"], "as": ["e", "v"]}], "mark": {"type": "tick", "orient": "horizontal", "color": "black", "size": 6, "thickness": 1},
   "encoding": {"x": {"field": "w", "type": "quantitative", "scale": {"type": "log", "domain": [0.38, 813], "nice": false}, "axis": null},
    "y": {"field": "v", "type": "quantitative", "scale": {"type": "log", "domain": [0.001, 2.83], "nice": false}, "axis": null}}},
  {"transform": [{"filter": "datum.k == 'ph'"}], "mark": {"type": "line", "color": "black", "strokeWidth": 1, "clip": true},
   "encoding": {"x": {"field": "w", "type": "quantitative", "scale": {"type": "log", "domain": [0.38, 813], "nice": false}, "axis": {"orient": "bottom", "values": [0.4, 0.5, 0.6, 0.7, 0.8, 0.9, 2, 3, 4, 5, 6, 7, 8, 9, 20, 30, 40, 50, 60, 70, 80, 90, 200, 300, 400, 500, 600, 700, 800], "labels": false, "domain": false, "tickSize": -5, "title": null}},
    "y": {"field": "f", "type": "quantitative", "scale": {"type": "log", "domain": [0.001, 2.83], "nice": false}, "axis": {"orient": "left", "values": [0.002, 0.003, 0.004, 0.005, 0.006, 0.007, 0.008, 0.009, 0.02, 0.03, 0.04, 0.05, 0.06, 0.07, 0.08, 0.09, 0.2, 0.3, 0.4, 0.5, 0.6, 0.7, 0.8, 0.9, 2], "labels": false, "domain": false, "tickSize": -5, "title": null}}}},
  {"transform": [{"filter": "datum.k == 'md'"}], "mark": {"type": "line", "color": "#ff0000", "strokeWidth": 1.2, "clip": true},
   "encoding": {"x": {"field": "w", "type": "quantitative", "scale": {"type": "log", "domain": [0.38, 813], "nice": false}, "axis": {"orient": "top", "values": [0.4, 0.5, 0.6, 0.7, 0.8, 0.9, 2, 3, 4, 5, 6, 7, 8, 9, 20, 30, 40, 50, 60, 70, 80, 90, 200, 300, 400, 500, 600, 700, 800], "labels": false, "domain": false, "tickSize": -5, "title": null}},
    "y": {"field": "f", "type": "quantitative", "scale": {"type": "log", "domain": [0.001, 2.83], "nice": false}, "axis": {"orient": "right", "values": [0.002, 0.003, 0.004, 0.005, 0.006, 0.007, 0.008, 0.009, 0.02, 0.03, 0.04, 0.05, 0.06, 0.07, 0.08, 0.09, 0.2, 0.3, 0.4, 0.5, 0.6, 0.7, 0.8, 0.9, 2], "labels": false, "domain": false, "tickSize": -5, "title": null}}}}
 ]},
{"width": 343, "height": 242, "title": {"text": "HD3003"}, "transform": [{"filter": "datum.s == 'HD3003'"}],
 "resolve": {"axis": {"x": "independent", "y": "independent"}},
 "layer": [
  {"transform": [{"filter": "datum.k == 'ob'"}], "mark": {"type": "circle", "color": "black", "size": 45, "opacity": 1},
   "encoding": {"x": {"field": "w", "type": "quantitative", "scale": {"type": "log", "domain": [0.38, 813], "nice": false}, "axis": {"orient": "bottom", "values": [1, 10, 100], "format": "d", "tickSize": -10, "labelPadding": 12, "labelFont": "Liberation Serif", "labelFontSize": 28, "title": "Wavelength (μm)", "titleFont": "Liberation Serif", "titleFontSize": 28, "titleFontWeight": "normal", "titlePadding": 2}},
    "y": {"field": "f", "type": "quantitative", "scale": {"type": "log", "domain": [0.001, 57.6], "nice": false}, "axis": {"orient": "left", "values": [0.001, 0.01, 0.1, 1, 10], "format": ".3f", "tickSize": -10, "labelPadding": 6, "labelFont": "Liberation Serif", "labelFontSize": 28, "title": "Flux (Jy)", "titleFont": "Liberation Serif", "titleFontSize": 28, "titleFontWeight": "normal", "titlePadding": 16}}}},
  {"transform": [{"filter": "datum.k == 'ob' && isValid(datum.lo)"}], "mark": {"type": "rule", "color": "black", "strokeWidth": 1},
   "encoding": {"x": {"field": "w", "type": "quantitative", "scale": {"type": "log", "domain": [0.38, 813], "nice": false}, "axis": {"orient": "top", "values": [1, 10, 100], "labels": false, "tickSize": -10, "title": null}},
    "y": {"field": "lo", "type": "quantitative", "scale": {"type": "log", "domain": [0.001, 57.6], "nice": false}, "axis": {"orient": "right", "values": [0.001, 0.01, 0.1, 1, 10], "labels": false, "tickSize": -10, "title": null}}, "y2": {"field": "hi"}}},
  {"transform": [{"filter": "datum.k == 'ob' && isValid(datum.lo)"}, {"fold": ["lo", "hi"], "as": ["e", "v"]}], "mark": {"type": "tick", "orient": "horizontal", "color": "black", "size": 6, "thickness": 1},
   "encoding": {"x": {"field": "w", "type": "quantitative", "scale": {"type": "log", "domain": [0.38, 813], "nice": false}, "axis": null},
    "y": {"field": "v", "type": "quantitative", "scale": {"type": "log", "domain": [0.001, 57.6], "nice": false}, "axis": null}}},
  {"transform": [{"filter": "datum.k == 'ph'"}], "mark": {"type": "line", "color": "black", "strokeWidth": 1, "clip": true},
   "encoding": {"x": {"field": "w", "type": "quantitative", "scale": {"type": "log", "domain": [0.38, 813], "nice": false}, "axis": {"orient": "bottom", "values": [0.4, 0.5, 0.6, 0.7, 0.8, 0.9, 2, 3, 4, 5, 6, 7, 8, 9, 20, 30, 40, 50, 60, 70, 80, 90, 200, 300, 400, 500, 600, 700, 800], "labels": false, "domain": false, "tickSize": -5, "title": null}},
    "y": {"field": "f", "type": "quantitative", "scale": {"type": "log", "domain": [0.001, 57.6], "nice": false}, "axis": {"orient": "left", "values": [0.002, 0.003, 0.004, 0.005, 0.006, 0.007, 0.008, 0.009, 0.02, 0.03, 0.04, 0.05, 0.06, 0.07, 0.08, 0.09, 0.2, 0.3, 0.4, 0.5, 0.6, 0.7, 0.8, 0.9, 2, 3, 4, 5, 6, 7, 8, 9, 20, 30, 40, 50], "labels": false, "domain": false, "tickSize": -5, "title": null}}}},
  {"transform": [{"filter": "datum.k == 'md'"}], "mark": {"type": "line", "color": "#ff0000", "strokeWidth": 1.2, "clip": true},
   "encoding": {"x": {"field": "w", "type": "quantitative", "scale": {"type": "log", "domain": [0.38, 813], "nice": false}, "axis": {"orient": "top", "values": [0.4, 0.5, 0.6, 0.7, 0.8, 0.9, 2, 3, 4, 5, 6, 7, 8, 9, 20, 30, 40, 50, 60, 70, 80, 90, 200, 300, 400, 500, 600, 700, 800], "labels": false, "domain": false, "tickSize": -5, "title": null}},
    "y": {"field": "f", "type": "quantitative", "scale": {"type": "log", "domain": [0.001, 57.6], "nice": false}, "axis": {"orient": "right", "values": [0.002, 0.003, 0.004, 0.005, 0.006, 0.007, 0.008, 0.009, 0.02, 0.03, 0.04, 0.05, 0.06, 0.07, 0.08, 0.09, 0.2, 0.3, 0.4, 0.5, 0.6, 0.7, 0.8, 0.9, 2, 3, 4, 5, 6, 7, 8, 9, 20, 30, 40, 50], "labels": false, "domain": false, "tickSize": -5, "title": null}}}}
 ]},
{"width": 343, "height": 242, "title": {"text": "HD12039"}, "transform": [{"filter": "datum.s == 'HD12039'"}],
 "resolve": {"axis": {"x": "independent", "y": "independent"}},
 "layer": [
  {"transform": [{"filter": "datum.k == 'ob'"}], "mark": {"type": "circle", "color": "black", "size": 45, "opacity": 1},
   "encoding": {"x": {"field": "w", "type": "quantitative", "scale": {"type": "log", "domain": [0.38, 813], "nice": false}, "axis": {"orient": "bottom", "values": [1, 10, 100], "format": "d", "tickSize": -10, "labelPadding": 12, "labelFont": "Liberation Serif", "labelFontSize": 28, "title": "Wavelength (μm)", "titleFont": "Liberation Serif", "titleFontSize": 28, "titleFontWeight": "normal", "titlePadding": 2}},
    "y": {"field": "f", "type": "quantitative", "scale": {"type": "log", "domain": [0.001, 4.37], "nice": false}, "axis": {"orient": "left", "values": [0.001, 0.01, 0.1, 1], "format": ".3f", "tickSize": -10, "labelPadding": 6, "labelFont": "Liberation Serif", "labelFontSize": 28, "title": "Flux (Jy)", "titleFont": "Liberation Serif", "titleFontSize": 28, "titleFontWeight": "normal", "titlePadding": 16}}}},
  {"transform": [{"filter": "datum.k == 'ob' && isValid(datum.lo)"}], "mark": {"type": "rule", "color": "black", "strokeWidth": 1},
   "encoding": {"x": {"field": "w", "type": "quantitative", "scale": {"type": "log", "domain": [0.38, 813], "nice": false}, "axis": {"orient": "top", "values": [1, 10, 100], "labels": false, "tickSize": -10, "title": null}},
    "y": {"field": "lo", "type": "quantitative", "scale": {"type": "log", "domain": [0.001, 4.37], "nice": false}, "axis": {"orient": "right", "values": [0.001, 0.01, 0.1, 1], "labels": false, "tickSize": -10, "title": null}}, "y2": {"field": "hi"}}},
  {"transform": [{"filter": "datum.k == 'ob' && isValid(datum.lo)"}, {"fold": ["lo", "hi"], "as": ["e", "v"]}], "mark": {"type": "tick", "orient": "horizontal", "color": "black", "size": 6, "thickness": 1},
   "encoding": {"x": {"field": "w", "type": "quantitative", "scale": {"type": "log", "domain": [0.38, 813], "nice": false}, "axis": null},
    "y": {"field": "v", "type": "quantitative", "scale": {"type": "log", "domain": [0.001, 4.37], "nice": false}, "axis": null}}},
  {"transform": [{"filter": "datum.k == 'ph'"}], "mark": {"type": "line", "color": "black", "strokeWidth": 1, "clip": true},
   "encoding": {"x": {"field": "w", "type": "quantitative", "scale": {"type": "log", "domain": [0.38, 813], "nice": false}, "axis": {"orient": "bottom", "values": [0.4, 0.5, 0.6, 0.7, 0.8, 0.9, 2, 3, 4, 5, 6, 7, 8, 9, 20, 30, 40, 50, 60, 70, 80, 90, 200, 300, 400, 500, 600, 700, 800], "labels": false, "domain": false, "tickSize": -5, "title": null}},
    "y": {"field": "f", "type": "quantitative", "scale": {"type": "log", "domain": [0.001, 4.37], "nice": false}, "axis": {"orient": "left", "values": [0.002, 0.003, 0.004, 0.005, 0.006, 0.007, 0.008, 0.009, 0.02, 0.03, 0.04, 0.05, 0.06, 0.07, 0.08, 0.09, 0.2, 0.3, 0.4, 0.5, 0.6, 0.7, 0.8, 0.9, 2, 3, 4], "labels": false, "domain": false, "tickSize": -5, "title": null}}}},
  {"transform": [{"filter": "datum.k == 'md'"}], "mark": {"type": "line", "color": "#ff0000", "strokeWidth": 1.2, "clip": true},
   "encoding": {"x": {"field": "w", "type": "quantitative", "scale": {"type": "log", "domain": [0.38, 813], "nice": false}, "axis": {"orient": "top", "values": [0.4, 0.5, 0.6, 0.7, 0.8, 0.9, 2, 3, 4, 5, 6, 7, 8, 9, 20, 30, 40, 50, 60, 70, 80, 90, 200, 300, 400, 500, 600, 700, 800], "labels": false, "domain": false, "tickSize": -5, "title": null}},
    "y": {"field": "f", "type": "quantitative", "scale": {"type": "log", "domain": [0.001, 4.37], "nice": false}, "axis": {"orient": "right", "values": [0.002, 0.003, 0.004, 0.005, 0.006, 0.007, 0.008, 0.009, 0.02, 0.03, 0.04, 0.05, 0.06, 0.07, 0.08, 0.09, 0.2, 0.3, 0.4, 0.5, 0.6, 0.7, 0.8, 0.9, 2, 3, 4], "labels": false, "domain": false, "tickSize": -5, "title": null}}}}
 ]},
{"width": 343, "height": 242, "title": {"text": "HD1466"}, "transform": [{"filter": "datum.s == 'HD1466'"}],
 "resolve": {"axis": {"x": "independent", "y": "independent"}},
 "layer": [
  {"transform": [{"filter": "datum.k == 'ob'"}], "mark": {"type": "circle", "color": "black", "size": 45, "opacity": 1},
   "encoding": {"x": {"field": "w", "type": "quantitative", "scale": {"type": "log", "domain": [0.38, 813], "nice": false}, "axis": {"orient": "bottom", "values": [1, 10, 100], "format": "d", "tickSize": -10, "labelPadding": 12, "labelFont": "Liberation Serif", "labelFontSize": 28, "title": "Wavelength (μm)", "titleFont": "Liberation Serif", "titleFontSize": 28, "titleFontWeight": "normal", "titlePadding": 2}},
    "y": {"field": "f", "type": "quantitative", "scale": {"type": "log", "domain": [0.001, 6.59], "nice": false}, "axis": {"orient": "left", "values": [0.001, 0.01, 0.1, 1], "format": ".3f", "tickSize": -10, "labelPadding": 6, "labelFont": "Liberation Serif", "labelFontSize": 28, "title": "Flux (Jy)", "titleFont": "Liberation Serif", "titleFontSize": 28, "titleFontWeight": "normal", "titlePadding": 16}}}},
  {"transform": [{"filter": "datum.k == 'ob' && isValid(datum.lo)"}], "mark": {"type": "rule", "color": "black", "strokeWidth": 1},
   "encoding": {"x": {"field": "w", "type": "quantitative", "scale": {"type": "log", "domain": [0.38, 813], "nice": false}, "axis": {"orient": "top", "values": [1, 10, 100], "labels": false, "tickSize": -10, "title": null}},
    "y": {"field": "lo", "type": "quantitative", "scale": {"type": "log", "domain": [0.001, 6.59], "nice": false}, "axis": {"orient": "right", "values": [0.001, 0.01, 0.1, 1], "labels": false, "tickSize": -10, "title": null}}, "y2": {"field": "hi"}}},
  {"transform": [{"filter": "datum.k == 'ob' && isValid(datum.lo)"}, {"fold": ["lo", "hi"], "as": ["e", "v"]}], "mark": {"type": "tick", "orient": "horizontal", "color": "black", "size": 6, "thickness": 1},
   "encoding": {"x": {"field": "w", "type": "quantitative", "scale": {"type": "log", "domain": [0.38, 813], "nice": false}, "axis": null},
    "y": {"field": "v", "type": "quantitative", "scale": {"type": "log", "domain": [0.001, 6.59], "nice": false}, "axis": null}}},
  {"transform": [{"filter": "datum.k == 'ph'"}], "mark": {"type": "line", "color": "black", "strokeWidth": 1, "clip": true},
   "encoding": {"x": {"field": "w", "type": "quantitative", "scale": {"type": "log", "domain": [0.38, 813], "nice": false}, "axis": {"orient": "bottom", "values": [0.4, 0.5, 0.6, 0.7, 0.8, 0.9, 2, 3, 4, 5, 6, 7, 8, 9, 20, 30, 40, 50, 60, 70, 80, 90, 200, 300, 400, 500, 600, 700, 800], "labels": false, "domain": false, "tickSize": -5, "title": null}},
    "y": {"field": "f", "type": "quantitative", "scale": {"type": "log", "domain": [0.001, 6.59], "nice": false}, "axis": {"orient": "left", "values": [0.002, 0.003, 0.004, 0.005, 0.006, 0.007, 0.008, 0.009, 0.02, 0.03, 0.04, 0.05, 0.06, 0.07, 0.08, 0.09, 0.2, 0.3, 0.4, 0.5, 0.6, 0.7, 0.8, 0.9, 2, 3, 4, 5, 6], "labels": false, "domain": false, "tickSize": -5, "title": null}}}},
  {"transform": [{"filter": "datum.k == 'md'"}], "mark": {"type": "line", "color": "#ff0000", "strokeWidth": 1.2, "clip": true},
   "encoding": {"x": {"field": "w", "type": "quantitative", "scale": {"type": "log", "domain": [0.38, 813], "nice": false}, "axis": {"orient": "top", "values": [0.4, 0.5, 0.6, 0.7, 0.8, 0.9, 2, 3, 4, 5, 6, 7, 8, 9, 20, 30, 40, 50, 60, 70, 80, 90, 200, 300, 400, 500, 600, 700, 800], "labels": false, "domain": false, "tickSize": -5, "title": null}},
    "y": {"field": "f", "type": "quantitative", "scale": {"type": "log", "domain": [0.001, 6.59], "nice": false}, "axis": {"orient": "right", "values": [0.002, 0.003, 0.004, 0.005, 0.006, 0.007, 0.008, 0.009, 0.02, 0.03, 0.04, 0.05, 0.06, 0.07, 0.08, 0.09, 0.2, 0.3, 0.4, 0.5, 0.6, 0.7, 0.8, 0.9, 2, 3, 4, 5, 6], "labels": false, "domain": false, "tickSize": -5, "title": null}}}}
 ]}
]
}
